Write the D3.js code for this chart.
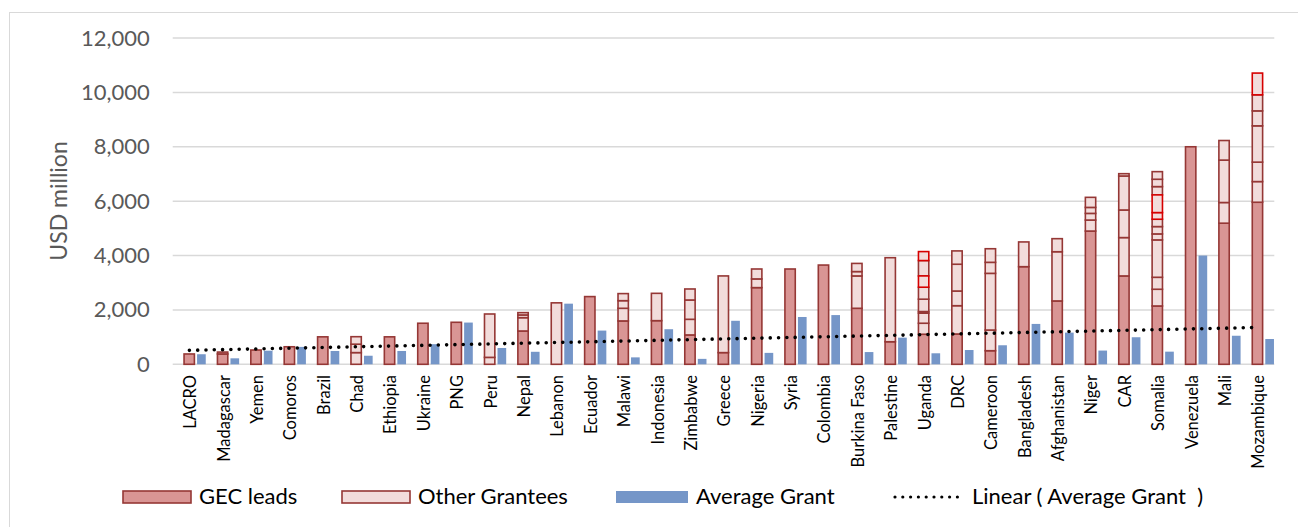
<!DOCTYPE html>
<html>
<head>
<meta charset="utf-8">
<script src="https://cdn.jsdelivr.net/npm/d3@7"></script>
<style>
  body { margin: 0; background: #fff; }
  text { font-family: Lato, "Open Sans", sans-serif; }
</style>
</head>
<body>
<script>
var countries = ["LACRO", "Madagascar", "Yemen", "Comoros", "Brazil", "Chad", "Ethiopia", "Ukraine", "PNG", "Peru",
  "Nepal", "Lebanon", "Ecuador", "Malawi", "Indonesia", "Zimbabwe", "Greece", "Nigeria", "Syria", "Colombia",
  "Burkina Faso", "Palestine", "Uganda", "DRC", "Cameroon", "Bangladesh", "Afghanistan", "Niger", "CAR", "Somalia",
  "Venezuela", "Mali", "Mozambique"];

// GEC lead grants, bottom of each stack (USD million)
var gecLeads = [[380], [380, 70], [525], [645], [1010], [], [1010], [1510], [1545], [],
  [1225], [], [2490], [1595], [1605], [1080], [430], [2820], [3505], [3650],
  [2060], [830], [1105], [1115], [500], [3590], [2330], [4900], [3250], [2145],
  [8000], [5190], [5960]];

// other grantees, stacked on top of the GEC leads
var otherGrantees = [[], [], [], [], [], [430, 310, 275], [], [], [], [255, 1595],
  [490, 100, 85], [2260], [], [465, 280, 260], [1005], [575, 710, 405], [2820], [320, 365], [], [],
  [1190, 160, 300], [3090], [405, 370, 60, 455, 440, 415, 565, 330], [1040, 540, 985, 490], [760, 2085, 405, 500], [910], [1810, 480], [405, 245, 220, 370], [1410, 1015, 1250, 85], [615, 440, 1375, 220, 270, 270, 245, 650, 305, 270, 280],
  [], [760, 1560, 720], [760, 715, 1335, 550, 590, 800]];

// other-grantee segments outlined in bright red: [country index, segment index]
var flagged = [[22, 5], [22, 7], [29, 6], [29, 7], [32, 5]];

var averageGrant = [370, 220, 500, 640, 490, 315, 490, 740, 1535, 600,
  460, 2230, 1240, 255, 1290, 200, 1600, 420, 1740, 1810,
  450, 980, 405, 525, 700, 1485, 1165, 505, 995, 465,
  4000, 1050, 930];

var yTicks = [0, 2000, 4000, 6000, 8000, 10000, 12000];

var W = 1298, H = 527;
var svg = d3.select("body").append("svg").attr("width", W).attr("height", H);

svg.append("rect") // chart frame
  .attr("x", 9.5).attr("y", 12.5).attr("width", W + 10).attr("height", H + 10)
  .attr("fill", "none").attr("stroke", "#d9d9d9");

var x = d3.scaleBand().domain(countries).range([172.7, 1274.3]).paddingInner(0).paddingOuter(0);
var y = d3.scaleLinear().domain([0, 12000]).range([364.3, 38]);
var bw = x.bandwidth();

// gridlines
svg.append("g").selectAll("line").data(yTicks).enter().append("line")
  .attr("x1", 172.7).attr("x2", 1274.3)
  .attr("y1", function (d) { return y(d); }).attr("y2", function (d) { return y(d); })
  .attr("stroke", "#d9d9d9").attr("stroke-width", 1.5);

// y axis labels
var yAxis = d3.axisLeft(y).tickValues(yTicks).tickFormat(d3.format(",")).tickSize(0).tickPadding(23);
var gy = svg.append("g").attr("transform", "translate(172.7,0)").call(yAxis);
gy.select(".domain").remove();
gy.selectAll("text").attr("font-size", 22).attr("fill", "#595959").attr("font-family", "Lato, sans-serif");

svg.append("text")
  .attr("transform", "translate(67,201) rotate(-90)")
  .attr("text-anchor", "middle")
  .attr("font-size", 23).attr("fill", "#595959")
  .text("USD million");

// build stacked segments
var segs = [];
countries.forEach(function (c, i) {
  var base = 0;
  gecLeads[i].forEach(function (v) {
    segs.push({ c: c, y0: base, y1: base + v, type: "gec" });
    base += v;
  });
  otherGrantees[i].forEach(function (v, j) {
    var hot = flagged.some(function (f) { return f[0] === i && f[1] === j; });
    segs.push({ c: c, y0: base, y1: base + v, type: "other", hot: hot });
    base += v;
  });
});
segs.sort(function (a, b) { return (a.hot ? 1 : 0) - (b.hot ? 1 : 0); });

svg.append("g").selectAll("rect").data(segs).enter().append("rect")
  .attr("x", function (d) { return x(d.c) + bw * 0.34; })
  .attr("width", bw * 0.31)
  .attr("y", function (d) { return y(d.y1); })
  .attr("height", function (d) { return y(d.y0) - y(d.y1); })
  .attr("fill", function (d) { return d.type === "gec" ? "#d99594" : "#f2dcdb"; })
  .attr("stroke", function (d) { return d.hot ? "#d60000" : "#953735"; })
  .attr("stroke-width", 1.6);

// average grant bars
svg.append("g").selectAll("rect").data(averageGrant).enter().append("rect")
  .attr("x", function (d, i) { return x(countries[i]) + bw * 0.73; })
  .attr("width", bw * 0.26)
  .attr("y", function (d) { return y(d); })
  .attr("height", function (d) { return y(0) - y(d); })
  .attr("fill", "#7596c8");

// linear trend of average grant (least squares)
var n = averageGrant.length;
var xm = d3.mean(d3.range(n)), ym = d3.mean(averageGrant);
var sxy = d3.sum(averageGrant, function (d, i) { return (i - xm) * (d - ym); });
var sxx = d3.sum(d3.range(n), function (i) { return (i - xm) * (i - xm); });
var slope = sxy / sxx, icpt = ym - slope * xm;
var trend = [0, n - 1].map(function (i) { return [i, icpt + slope * i]; });

svg.append("path")
  .datum(trend)
  .attr("d", d3.line()
    .x(function (d) { return x(countries[d[0]]) + bw / 2; })
    .y(function (d) { return y(d[1]); }))
  .attr("fill", "none").attr("stroke", "#000").attr("stroke-width", 3.6)
  .attr("stroke-linecap", "round").attr("stroke-dasharray", "0 8.3");

// category labels
svg.append("g").selectAll("text").data(countries).enter().append("text")
  .attr("transform", function (d) { return "translate(" + (x(d) + bw / 2 + 1) + ",375) rotate(-90)"; })
  .attr("text-anchor", "end")
  .attr("dy", "0.35em")
  .attr("font-size", 16.5).attr("fill", "#000")
  .text(function (d) { return d; });

// legend
var lg = svg.append("g");
lg.append("rect").attr("x", 123).attr("y", 491).attr("width", 68).attr("height", 12)
  .attr("fill", "#d99594").attr("stroke", "#953735").attr("stroke-width", 1.6);
lg.append("text").attr("x", 199).attr("y", 504).attr("font-size", 22).text("GEC leads");
lg.append("rect").attr("x", 342).attr("y", 491).attr("width", 68).attr("height", 12)
  .attr("fill", "#f2dcdb").attr("stroke", "#953735").attr("stroke-width", 1.6);
lg.append("text").attr("x", 418).attr("y", 504).attr("font-size", 22).text("Other Grantees");
lg.append("rect").attr("x", 616).attr("y", 491).attr("width", 72).attr("height", 12)
  .attr("fill", "#7596c8");
lg.append("text").attr("x", 696).attr("y", 504).attr("font-size", 22).text("Average Grant");
lg.append("line").attr("x1", 895).attr("x2", 965).attr("y1", 497).attr("y2", 497)
  .attr("stroke", "#000").attr("stroke-width", 3.2)
  .attr("stroke-linecap", "round").attr("stroke-dasharray", "0 7.8");
lg.append("text").attr("x", 972).attr("y", 504).attr("font-size", 22).attr("xml:space", "preserve")
  .text("Linear ( Average Grant  )");
</script>
</body>
</html>
